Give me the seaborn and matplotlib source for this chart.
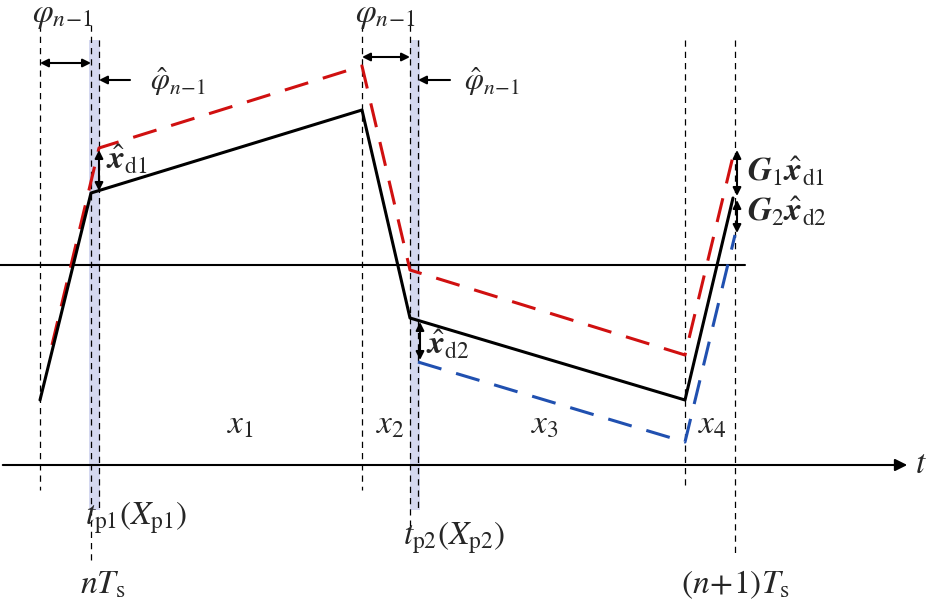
import matplotlib
matplotlib.use("Agg")
import matplotlib.pyplot as plt
import seaborn as sns

sns.set_theme(style="white")
plt.rcParams['font.family'] = ['Liberation Serif', 'DejaVu Serif']
plt.rcParams['mathtext.fontset'] = 'stix'

# Diagram data (pixel coordinates of the schematic)
black_x = [40, 91, 362, 410, 685, 733]
black_y = [400, 193, 110, 318, 400, 198]
red_x = [52, 99, 362, 410, 685, 735]
red_y = [345, 148, 66, 270, 355, 148]
blue_x = [418, 685, 735]
blue_y = [362, 442, 235]
vlines = [(40, 25, 490), (91, 25, 565), (99, 40, 510), (362, 25, 490),
          (410, 25, 530), (418, 40, 510), (685, 40, 490), (735, 40, 555)]
bands = [(89, 100), (410, 420)]

fig = plt.figure(figsize=(9.26, 6.09), dpi=100)
ax = fig.add_axes([0, 0, 1, 1])
ax.set_xlim(0, 926); ax.set_ylim(609, 0); ax.axis('off')

for a, b in bands:
    ax.axvspan(a, b, ymin=1 - 510/609, ymax=1 - 40/609, color='#d4d8f0', lw=0)
for x, y0, y1 in vlines:
    ax.plot([x, x], [y0, y1], color='black', ls=(0, (5, 4)), lw=0.9)
ax.plot([0, 745], [265, 265], color='black', lw=1.5)
ax.annotate('', xy=(910, 465), xytext=(0, 465),
            arrowprops=dict(arrowstyle='-|>', color='black', lw=1.5, mutation_scale=18))
ax.text(915, 465, '$t$', fontsize=24, va='center')

sns.lineplot(x=red_x, y=red_y, ax=ax, color='#d01010', lw=2.2, sort=False, estimator=None)
ax.lines[-1].set_dashes([8, 5])
sns.lineplot(x=blue_x, y=blue_y, ax=ax, color='#2050b0', lw=2.2, sort=False, estimator=None)
ax.lines[-1].set_dashes([8, 5])
sns.lineplot(x=black_x, y=black_y, ax=ax, color='black', lw=2.2, sort=False, estimator=None)

def darrow(x0, y0, x1, y1):
    ax.annotate('', xy=(x1, y1), xytext=(x0, y0),
                arrowprops=dict(arrowstyle='<|-|>', color='black', lw=1.5, mutation_scale=12, shrinkA=0, shrinkB=0))
def sarrow(x0, y0, x1, y1):
    ax.annotate('', xy=(x1, y1), xytext=(x0, y0),
                arrowprops=dict(arrowstyle='-|>', color='black', lw=1.5, mutation_scale=12, shrinkA=0, shrinkB=0))

darrow(40, 63, 91, 63); sarrow(130, 80, 99, 80)
darrow(362, 57, 410, 57); sarrow(450, 80, 418, 80)
darrow(99, 150, 99, 191); darrow(420, 322, 420, 360)
darrow(737, 150, 737, 196); darrow(737, 200, 737, 233)

fs = 24
ax.text(62, 16, r'$\varphi_{n\!-\!1}$', fontsize=fs, ha='center', va='center')
ax.text(385, 16, r'$\varphi_{n\!-\!1}$', fontsize=fs, ha='center', va='center')
ax.text(178, 82, r'$\hat{\varphi}_{n\!-\!1}$', fontsize=fs-2, ha='center', va='center')
ax.text(492, 82, r'$\hat{\varphi}_{n\!-\!1}$', fontsize=fs-2, ha='center', va='center')
ax.text(106, 160, r'$\hat{\boldsymbol{x}}_{\mathrm{d1}}$', fontsize=fs, va='center')
ax.text(426, 345, r'$\hat{\boldsymbol{x}}_{\mathrm{d2}}$', fontsize=fs, va='center')
ax.text(747, 172, r'$\boldsymbol{G}_1\hat{\boldsymbol{x}}_{\mathrm{d1}}$', fontsize=fs, va='center')
ax.text(747, 212, r'$\boldsymbol{G}_2\hat{\boldsymbol{x}}_{\mathrm{d2}}$', fontsize=fs, va='center')
for s, x in [('1', 240), ('2', 390), ('3', 545), ('4', 712)]:
    ax.text(x, 425, rf'$x_{s}$', fontsize=fs, ha='center', va='center')
ax.text(85, 518, r'$t_{\mathrm{p1}}(X_{\mathrm{p1}})$', fontsize=fs, va='center')
ax.text(403, 538, r'$t_{\mathrm{p2}}(X_{\mathrm{p2}})$', fontsize=fs, va='center')
ax.text(103, 585, r'$nT_{\mathrm{s}}$', fontsize=fs, ha='center', va='center')
ax.text(735, 585, r'$(n\!+\!1)T_{\mathrm{s}}$', fontsize=fs, ha='center', va='center')

fig.savefig('out.png', dpi=100, facecolor='white')
